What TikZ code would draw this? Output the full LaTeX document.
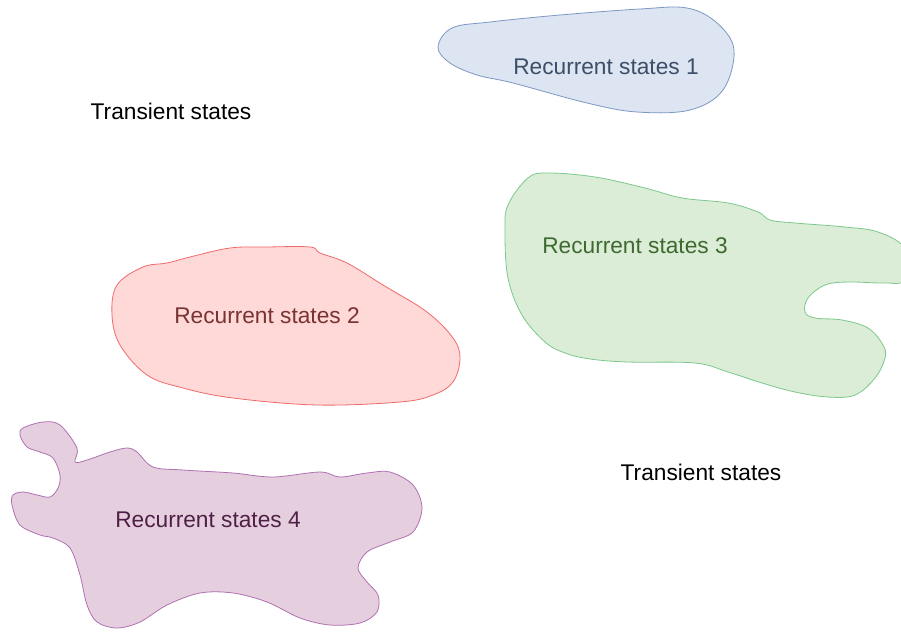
\documentclass[tikz,border=0pt]{standalone}
\usepackage{fontspec}
\setmainfont{Liberation Sans}
\definecolor{bfill}{HTML}{DCE5F1}
\definecolor{bline}{HTML}{7C98C4}
\definecolor{btext}{HTML}{3C4E68}
\definecolor{rfill}{HTML}{FFD8D8}
\definecolor{rline}{HTML}{F06A6A}
\definecolor{rtext}{HTML}{7A3333}
\definecolor{gfill}{HTML}{DBEDD7}
\definecolor{gline}{HTML}{7CC88A}
\definecolor{gtext}{HTML}{3E6A30}
\definecolor{pfill}{HTML}{E5CFDF}
\definecolor{pline}{HTML}{B070B2}
\definecolor{ptext}{HTML}{4E2045}
\tikzset{
  blob/.style={line width=0.8pt},
  lbl/.style={font=\fontsize{22.7}{27}\selectfont, inner sep=0pt}
}
\begin{document}
\begin{tikzpicture}[x=1pt,y=-1pt]
\useasboundingbox (0,0) rectangle (901,631);
% blob 1
\draw[blob, draw=bline, fill=bfill] plot[smooth cycle, tension=0.6] coordinates {
 (438,47) (452,28) (490,22) (560,15) (640,9) (687,8) (717,23) (734,50)
 (723,90) (690,110) (637,112) (587,103) (513,83) (477,75) (450,63)};
% blob 2
\draw[blob, draw=rline, fill=rfill] plot[smooth cycle, tension=0.6] coordinates {
 (143,267) (167,263) (190,257) (230,248) (267,247) (310,247) (320,253) (347,263)
 (383,285) (427,312) (453,338) (460,358) (453,382) (433,395) (400,402) (317,405)
 (233,398) (183,388) (147,375) (120,345) (112,315) (117,285)};
% blob 3
\draw[blob, draw=gline, fill=gfill] plot[smooth cycle, tension=0.6] coordinates {
 (508,205) (528,178) (548,173) (595,177) (645,188) (682,198) (728,203) (758,212)
 (770,220) (795,223) (845,227) (878,232) (904,248) (904,280) (885,283) (848,282)
 (825,285) (808,298) (805,312) (815,318) (842,320) (868,328) (883,345) (885,358)
 (875,378) (855,395) (828,397) (795,392) (762,383) (728,372) (695,363) (628,362)
 (590,359) (565,353) (545,342) (522,315) (508,278) (505,232)};
% blob 4
\draw[blob, draw=pline, fill=pfill] plot[smooth cycle, tension=0.55] coordinates {
 (23,428) (43,422) (60,425) (77,448) (75,462) (87,460) (110,452) (127,448) (137,452)
 (153,467) (183,470) (233,473) (273,477) (320,472) (340,477) (367,473) (390,472)
 (413,485) (422,508) (413,532) (390,542) (367,552) (358,568) (367,582) (378,595)
 (377,612) (360,623) (330,625) (300,618) (267,602) (233,593) (200,593) (167,605)
 (140,622) (117,628) (97,622) (87,605) (80,575) (70,548) (53,538) (40,535) (20,525)
 (12,505) (13,495) (23,492) (37,495) (50,497) (58,488) (60,475) (53,458) (40,452)
 (27,447) (20,435)};
\node[lbl, text=btext] (r1) at (606,67) {Recurrent states 1};
\node[lbl, text=rtext] (r2) at (267,316) {Recurrent states 2};
\node[lbl, text=gtext] (r3) at (635,246) {Recurrent states 3};
\node[lbl, text=ptext] (r4) at (208,520) {Recurrent states 4};
\node[lbl] (t1) at (171,111) {Transient states};
\node[lbl] (t2) at (701,472) {Transient states};
\end{tikzpicture}
\end{document}
